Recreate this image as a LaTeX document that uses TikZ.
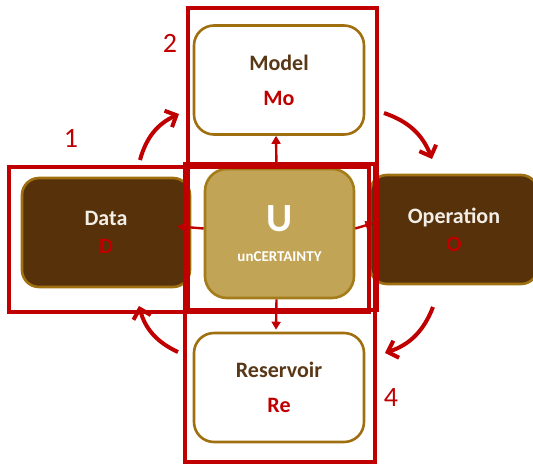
\documentclass[tikz,border=0pt]{standalone}
\usepackage{fontspec}
\setmainfont{Carlito}
\usepackage{tikz}
\usetikzlibrary{calc,arrows.meta,positioning}
\definecolor{unRed}{RGB}{192,0,0}
\definecolor{unBrown}{RGB}{86,49,10}
\definecolor{unGold}{RGB}{160,112,16}
\definecolor{unSand}{RGB}{193,164,85}
\definecolor{unSandDark}{RGB}{165,124,26}
\definecolor{unText}{RGB}{88,56,22}
\definecolor{unLight}{RGB}{242,238,230}

\begin{document}
\begin{tikzpicture}[x=1pt,y=-1pt,
    lightbox/.style={draw=unGold, fill=white, line width=2.6pt, rounded corners=20pt,
        minimum width=170pt, minimum height=109pt, align=center, text=unText,
        font=\fontsize{22}{35}\selectfont\bfseries},
    darkbox/.style={draw=unGold, fill=unBrown, line width=2.6pt, rounded corners=17pt,
        minimum width=168pt, minimum height=109pt, align=center, text=unLight,
        font=\fontsize{22}{28}\selectfont\bfseries},
    ubox/.style={draw=unSandDark, fill=unSand, line width=2.6pt, rounded corners=22pt,
        minimum width=149pt, minimum height=129pt, align=center, text=white,
        font=\fontsize{15}{18}\selectfont\bfseries},
    frame/.style={draw=unRed, line width=3.5pt},
    loop arrow/.style={unRed, line width=4pt, -{Straight Barb[length=9pt,width=18pt]}},
    small arrow/.style={unRed, line width=2.4pt, -{Triangle[length=8pt,width=9pt]}},
    numlabel/.style={text=unRed, font=\fontsize{28}{28}\selectfont}]
    \useasboundingbox (0,0) rectangle (533,464);

    % boxes
    \node[lightbox] (Model) at (279,80) {Model\\{\color{unRed}Mo}};
    \node[lightbox] (Reservoir) at (279,387.5) {Reservoir\\{\color{unRed}Re}};
    \node[darkbox] (Data) at (106,232.5) {Data\\{\color{unRed}D}};
    \node[darkbox] (Operation) at (454,229.5) {Operation\\{\color{unRed}O}};
    \node[ubox] (U) at (279.5,233.5) {{\fontsize{40}{40}\selectfont U}\\[12pt]unCERTAINTY};

    % arrows out of U
    \draw[small arrow] ([xshift=-3pt]U.north) -- ([xshift=-3pt]Model.south);
    \draw[small arrow, shorten >=2pt] ([xshift=-3pt]U.south) -- ([xshift=-3pt]Reservoir.north);
    \draw[small arrow, shorten >=-14pt] ([yshift=5pt]U.west) -- ([yshift=5pt]Data.east);
    \draw[small arrow, shorten >=-5pt] ([yshift=5pt]U.east) -- ([yshift=5pt]Operation.west);

    % frames
    \draw[frame] (188,8) rectangle (377,310);
    \draw[frame] (9,167) rectangle (369,312);
    \draw[frame] (185,164) rectangle (375,462);

    % cycle
    \coordinate (dm1) at (140,160);
    \coordinate (dm2) at (179,114);
    \coordinate (mo1) at (384,113);
    \coordinate (mo2) at (432,159);
    \coordinate (or1) at (433,307);
    \coordinate (or2) at (385,353);
    \coordinate (rd1) at (178,352);
    \coordinate (rd2) at (139,306);
    \draw[loop arrow] (dm1) to[bend left=25] (dm2);
    \draw[loop arrow] (mo1) to[bend left=25] (mo2);
    \draw[loop arrow] (or1) to[bend left=25] (or2);
    \draw[loop arrow] (rd1) to[bend left=25] (rd2);

    \node[numlabel] (n1) at (71,138) {1};
    \node[numlabel] (n2) at (170,43) {2};
    \node[numlabel] (n4) at (391,398) {4};
\end{tikzpicture}
\end{document}
